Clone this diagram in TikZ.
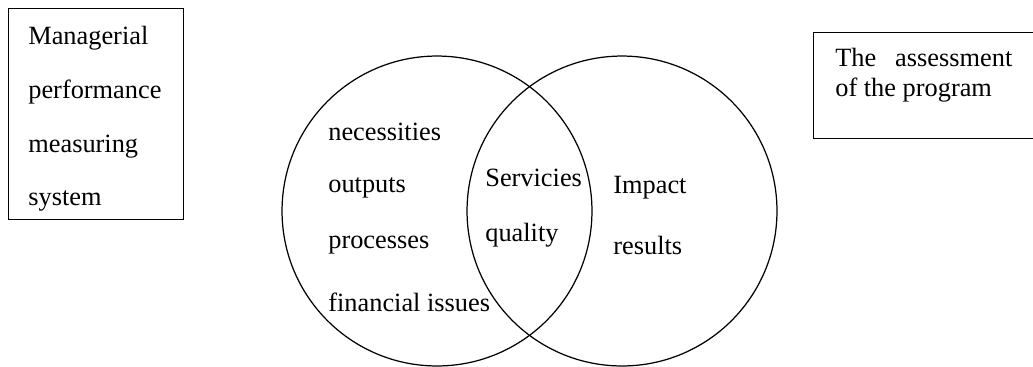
\documentclass[tikz,border=0pt]{standalone}
\usepackage{fontspec}
\setmainfont{Liberation Serif}
\usetikzlibrary{positioning}
\tikzset{x=0.02cm, y=-0.02cm,
every node/.style={font=\fontsize{15}{18}\selectfont},
frame/.style={draw, line width=0.7pt, rectangle, inner sep=0pt},
ring/.style={draw, line width=0.7pt, circle, minimum size=6.2cm, inner sep=0pt},
word/.style={anchor=west, inner sep=0pt},
}

\begin{document}
\begin{tikzpicture}
\useasboundingbox (0,0) rectangle (1033,366);
\clip (0,0) rectangle (1033,366);
    \node[frame, minimum width=3.5cm, minimum height=4.22cm, anchor=north west] (mpms) at (8,8) {};
    \node[frame, minimum width=4.6cm, minimum height=2.12cm, anchor=north west] (assess) at (813,32) {};
    \node[ring] (needs) at (437,211) {};
    \node[ring] (effects) at (622,211) {};
    \node[word] (m1) at (28,38) {Managerial};
    \node[word] (m2) at (28,92) {performance};
    \node[word] (m3) at (28,147) {measuring};
    \node[word] (m4) at (28,201) {system};
    \node[word] (a1) at (835,57) {\makebox[3.54cm][s]{The assessment}};
    \node[word] (a2) at (835,90) {of the program};
    \node[word] (n1) at (328,132) {necessities};
    \node[word] (n2) at (328,188) {outputs};
    \node[word] (n3) at (328,245) {processes};
    \node[word] (n4) at (328,302) {financial issues};
    \node[word] (s1) at (485,178) {Servicies};
    \node[word] (s2) at (485,235) {quality};
    \node[word] (e1) at (613,188) {Impact};
    \node[word] (e2) at (613,245) {results};
\end{tikzpicture}
\end{document}
